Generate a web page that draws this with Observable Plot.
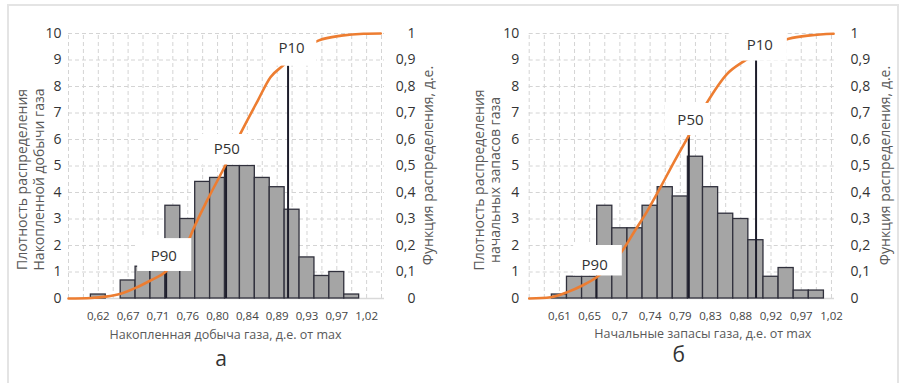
<!DOCTYPE html>
<html><head><meta charset="utf-8">
<script src="https://cdn.jsdelivr.net/npm/d3@7"></script>
<script src="https://cdn.jsdelivr.net/npm/@observablehq/plot@0.6"></script>
<style>
body{margin:0;background:#fff;font-family:"Open Sans",sans-serif;}
#wrap{position:absolute;left:0;top:0;display:flex;width:904px;height:383px}
.panel{position:relative;width:452px;height:383px}
.cap{position:absolute;top:348px;font-size:21px;line-height:21px;color:#333;width:40px;text-align:center}
#frame{position:absolute;left:7px;top:4px;width:892px;height:400px;border:2px solid #e4e4e4;border-bottom:none;box-sizing:border-box;pointer-events:none;z-index:5}
</style></head><body>
<div id="wrap"><div class="panel" id="pa"></div><div class="panel" id="pb"></div></div>
<div id="frame"></div>
<script>
// ---- Panel а : Накопленная добыча газа ----
const ticksA = ["0,62","0,67","0,71","0,76","0,80","0,84","0,89","0,93","0,97","1,02"];
const densityA = [0.15, 0, 0.68, 1.2, 1.2, 3.5, 3.0, 4.4, 4.55, 5.0, 5.0, 4.55, 4.2, 3.35, 1.55, 0.85, 1.0, 0.15];
const cdfPosA = [-2, -0.5, 0.5, 1.5, 2.5, 3.5, 4.5, 6.1, 6.4, 7.3, 8.5, 9.55, 10.7, 11.55, 12.35, 14.8, 16.3, 17.8, 18.95];
const cdfA = [0, 0.002, 0.007, 0.018, 0.04, 0.068, 0.10, 0.225, 0.265, 0.37, 0.50, 0.624, 0.747, 0.835, 0.877, 0.974, 0.992, 0.999, 1.0];
const pNamesA = ["P90", "P50", "P10"];
const pPosA = [4.55, 8.57, 12.73];
const pCdfA = [0.10, 0.50, 0.877];

// ---- Panel б : Начальные запасы газа ----
const ticksB = ["0,61","0,65","0,7","0,74","0,79","0,83","0,88","0,92","0,97","1,02"];
const densityB = [0.15, 0.82, 0.82, 3.5, 2.65, 2.65, 3.5, 4.2, 3.85, 5.35, 4.2, 3.2, 3.0, 2.2, 0.82, 1.15, 0.3, 0.3];
const cdfPosB = [-2, -0.57, 0.53, 1.52, 2.46, 4.16, 4.93, 5.81, 6.69, 7.57, 8.56, 9.78, 11.1, 12.19, 15.17, 16.6, 18.14];
const cdfB = [0, 0.005, 0.024, 0.049, 0.08, 0.18, 0.25, 0.33, 0.42, 0.514, 0.615, 0.741, 0.848, 0.895, 0.98, 0.993, 0.999];
const pNamesB = ["P90", "P50", "P10"];
const pPosB = [2.44, 8.56, 13.01];
const pCdfB = [0.08, 0.615, 0.9];

const secondaryLabels = ["0","0,1","0,2","0,3","0,4","0,5","0,6","0,7","0,8","0,9","1"];
const primaryTicks = [0,1,2,3,4,5,6,7,8,9,10];

// annotation label boxes (data units: bin index / density)
const annA = [
  {label:"P90", tx:4.39, ty:1.58, x1:2.64, x2:6.27, y1:1.02, y2:2.26},
  {label:"P50", tx:8.62, ty:5.62, x1:6.87, x2:10.3, y1:5.04, y2:6.19},
  {label:"P10", tx:12.96, ty:9.45, x1:11.24, x2:14.66, y1:8.77, y2:9.92}
];
const annB = [
  {label:"P90", tx:2.33, ty:1.25, x1:0.94, x2:4.16, y1:0.85, y2:2.0},
  {label:"P50", tx:8.67, ty:6.72, x1:7.02, x2:10.0, y1:6.15, y2:7.36},
  {label:"P10", tx:13.26, ty:9.57, x1:11.39, x2:15.08, y1:8.96, y2:10.19}
];

function panel(o) {
  const bars = o.density.map((v, i) => ({i, v})).filter(d => d.v > 0);
  const cdf = o.cdfPos.map((x, k) => ({x, c: o.cdf[k]}));
  const pl = o.pNames.map((n, k) => ({n, x: o.pPos[k], c: o.pCdf[k]}));
  const grid = d3.range(Math.ceil(o.xDomain[0]), Math.floor(o.xDomain[1]) + 1);
  const gridColor = "#d4d4d4";
  return Plot.plot({
    width: 452, height: 345,
    marginLeft: o.mL, marginRight: o.mR, marginTop: 33, marginBottom: 47,
    style: {fontFamily: "'Open Sans', sans-serif", background: "transparent", overflow: "visible"},
    x: {domain: o.xDomain, axis: null},
    y: {domain: [0, 10], axis: null},
    marks: [
      Plot.ruleX(grid, {y1: 0, y2: 10, stroke: gridColor, strokeDasharray: "4,3"}),
      Plot.ruleY(primaryTicks.slice(1), {stroke: gridColor, strokeDasharray: "4,3"}),
      Plot.ruleY([0], {stroke: "#d9d9d9", strokeWidth: 1.5}),
      Plot.rect(bars, {x1: d => d.i - 0.5, x2: d => d.i + 0.5, y1: 0, y2: "v", fill: "#a5a5a5", stroke: "#30303c", strokeWidth: 1.3}),
      Plot.ruleX(pl, {x: "x", y1: 0, y2: d => d.c * 10, stroke: "#1d1d2b", strokeWidth: 2}),
      Plot.line(cdf, {x: "x", y: d => d.c * 10, stroke: "#ED7D31", strokeWidth: 2.6, curve: "monotone-x"}),
      Plot.rect(o.ann, {x1: "x1", x2: "x2", y1: "y1", y2: "y2", fill: "white"}),
      Plot.text(o.ann, {x: "tx", y: "ty", text: "label", fontSize: 15, fill: "#333"}),
      Plot.axisY(primaryTicks, {anchor: "left", tickSize: 0, tickPadding: o.yPad, fontSize: 14, color: "#333", label: null}),
      Plot.axisY(primaryTicks, {anchor: "right", tickSize: 0, tickPadding: o.rPad, textAnchor: o.rAnchor, tickFormat: d => secondaryLabels[d], fontSize: 14, color: "#333", label: null}),
      Plot.axisX(d3.range(0, 19, 2), {anchor: "bottom", tickSize: 0, tickPadding: 13, tickFormat: d => o.ticks[d / 2], fontSize: 11.5, color: "#444", label: null}),
      Plot.text([o.xTitle], {text: d => d, frameAnchor: "bottom", textAnchor: "middle", lineAnchor: "middle", dy: o.xTitleDy, dx: o.xTitleDx, fontSize: 12.5, fill: "#595959"}),
      Plot.text([o.yTitle], {text: d => d, frameAnchor: "left", textAnchor: "middle", lineAnchor: "middle", dx: o.yTitleDx, dy: o.yTitleDy, rotate: -90, fontSize: 14, lineHeight: o.lh, fill: "#595959"}),
      Plot.text([o.rTitle], {text: d => d, frameAnchor: "right", textAnchor: "middle", lineAnchor: "middle", dx: o.rTitleDx, dy: -0.5, rotate: -90, fontSize: 14, fill: "#595959"})
    ]
  });
}

const a = panel({
  density: densityA, cdfPos: cdfPosA, cdf: cdfA, pNames: pNamesA, pPos: pPosA, pCdf: pCdfA, ann: annA, ticks: ticksA,
  xDomain: [-2, 19.2], mL: 68, mR: 68, yPad: 7, rPad: 31, rAnchor: "end",
  xTitle: "Накопленная добыча газа, д.е. от max", xTitleDx: -1, xTitleDy: 36,
  yTitle: "Плотность распределения\nНакопленной добычи газа", yTitleDx: -38.6, yTitleDy: 13.5, lh: 1.19,
  rTitle: "Функция распределения, д.е.", rTitleDx: 44.3
});
const b = panel({
  density: densityB, cdfPos: cdfPosB, cdf: cdfB, pNames: pNamesB, pPos: pPosB, pCdf: pCdfB, ann: annB, ticks: ticksB,
  xDomain: [-2, 18.2], mL: 76.7, mR: 70, yPad: 10, rPad: 16, rAnchor: "start",
  xTitle: "Начальные запасы газа, д.е. от max", xTitleDx: 21, xTitleDy: 35,
  yTitle: "Плотность распределения\nначальных запасов газа", yTitleDx: -42, yTitleDy: 14, lh: 1.14,
  rTitle: "Функция распределения, д.е.", rTitleDx: 51.3
});
document.getElementById("pa").append(a);
document.getElementById("pb").append(b);
const ca = document.createElement("div"); ca.className = "cap"; ca.textContent = "а"; ca.style.left = (221 - 20) + "px";
const cb = document.createElement("div"); cb.className = "cap"; cb.textContent = "б"; cb.style.left = (226.7 - 20) + "px"; cb.style.top = "344px";
document.getElementById("pa").append(ca);
document.getElementById("pb").append(cb);
</script></body></html>
